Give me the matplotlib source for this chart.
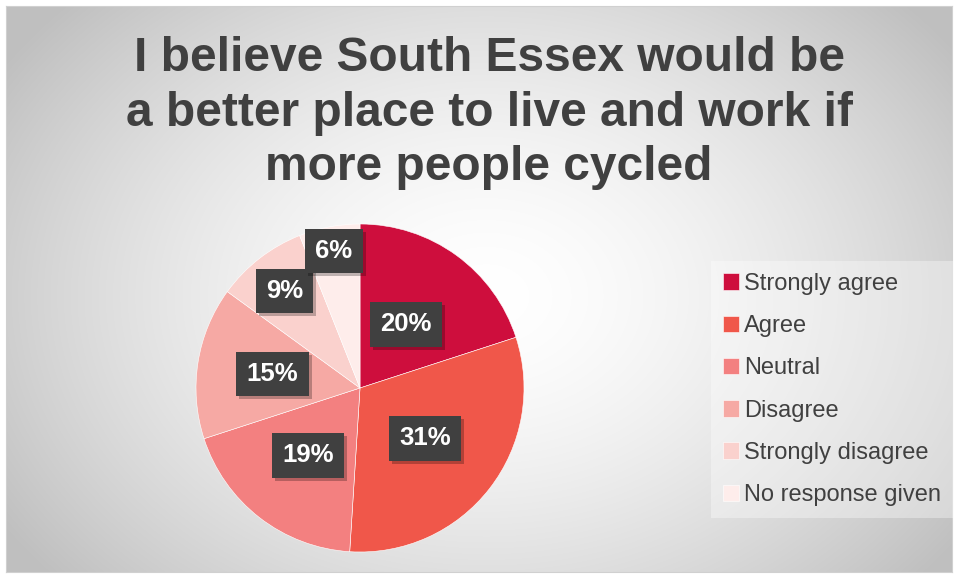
import numpy as np
import matplotlib
matplotlib.use('Agg')
from matplotlib import pyplot as plt
from matplotlib import transforms

# =============================================================================
# Data
# =============================================================================
categories = ['Strongly agree', 'Agree', 'Neutral', 'Disagree',
              'Strongly disagree', 'No response given']
values = [20, 31, 19, 15, 9, 6]
pct_labels = ['20%', '31%', '19%', '15%', '9%', '6%']
colors = ['#CE0E3D', '#F0574A', '#F38080', '#F6A9A4', '#FAD1CD', '#FEEDEB']
label_dist = [0.48, 0.50, 0.52, 0.54, 0.75, 0.85]
title = 'I believe South Essex would be\na better place to live and work if\nmore people cycled'

plt.rcParams['font.family'] = ['Liberation Sans', 'DejaVu Sans']

W, H = 957, 578
fig = plt.figure(figsize=(W / 100, H / 100), dpi=100, facecolor='white')

# =============================================================================
# Background with radial gradient
# =============================================================================
x0, x1, y0, y1 = 6, 952, 6, 572
bg = fig.add_axes([x0 / W, (H - y1) / H, (x1 - x0) / W, (y1 - y0) / H])
yy, xx = np.mgrid[0:(y1 - y0), 0:(x1 - x0)]
cx, cy = 480, 290
d = np.sqrt(((xx - cx) / 560.0) ** 2 + ((yy - cy) / 420.0) ** 2)
g = np.clip(1.0 - 0.24 * d ** 1.6, 0.75, 1.0)
bg.imshow(np.dstack([g, g, g]), aspect='auto', interpolation='bilinear')
bg.set_xticks([])
bg.set_yticks([])
for s in bg.spines.values():
    s.set_color('#d0d0d0')
    s.set_linewidth(0.8)

# Title
fig.text(489 / W, 1 - 113 / H, title, ha='center', va='center',
         fontsize=34.5, fontweight='bold', color='#404040', linespacing=1.28)

# =============================================================================
# Pie
# =============================================================================
pcx, pcy, r = 360, 388, 164
ax = fig.add_axes([(pcx - r) / W, (H - pcy - r) / H, 2 * r / W, 2 * r / H])
ax.set_facecolor('none')
wedges, _ = ax.pie(values, colors=colors, startangle=90, counterclock=False,
                   radius=1.0, wedgeprops=dict(linewidth=0.4, edgecolor='white'))
ax.set_xlim(-1, 1)
ax.set_ylim(-1, 1)
ax.set_aspect('equal')
ax.axis('off')

shadow_tr = transforms.offset_copy(ax.transData, fig=fig, x=3, y=-3, units='dots')
for w, lab, dist in zip(wedges, pct_labels, label_dist):
    ang = np.deg2rad((w.theta1 + w.theta2) / 2)
    lx, ly = dist * np.cos(ang), dist * np.sin(ang)
    ax.text(lx, ly, lab, ha='center', va='center', fontsize=18.5, fontweight='bold',
            color='none', transform=shadow_tr,
            bbox=dict(boxstyle='square,pad=0.4', facecolor='black', alpha=0.25,
                      edgecolor='none'))
    ax.text(lx, ly, lab, ha='center', va='center', fontsize=18.5, fontweight='bold',
            color='white',
            bbox=dict(boxstyle='square,pad=0.4', facecolor='#404040',
                      edgecolor='none'))

# =============================================================================
# Legend
# =============================================================================
leg = fig.legend(wedges, categories, loc='upper left',
                 bbox_to_anchor=(711 / W, 1 - 261 / H), borderaxespad=0,
                 fontsize=17, frameon=True, fancybox=False, handlelength=0.7,
                 handleheight=0.7, handletextpad=0.2, labelspacing=0.86,
                 borderpad=0.5, labelcolor='#404040')
leg.get_frame().set_facecolor('white')
leg.get_frame().set_alpha(0.35)
leg.get_frame().set_edgecolor('none')

plt.savefig('out.png', dpi=100, facecolor='white')
